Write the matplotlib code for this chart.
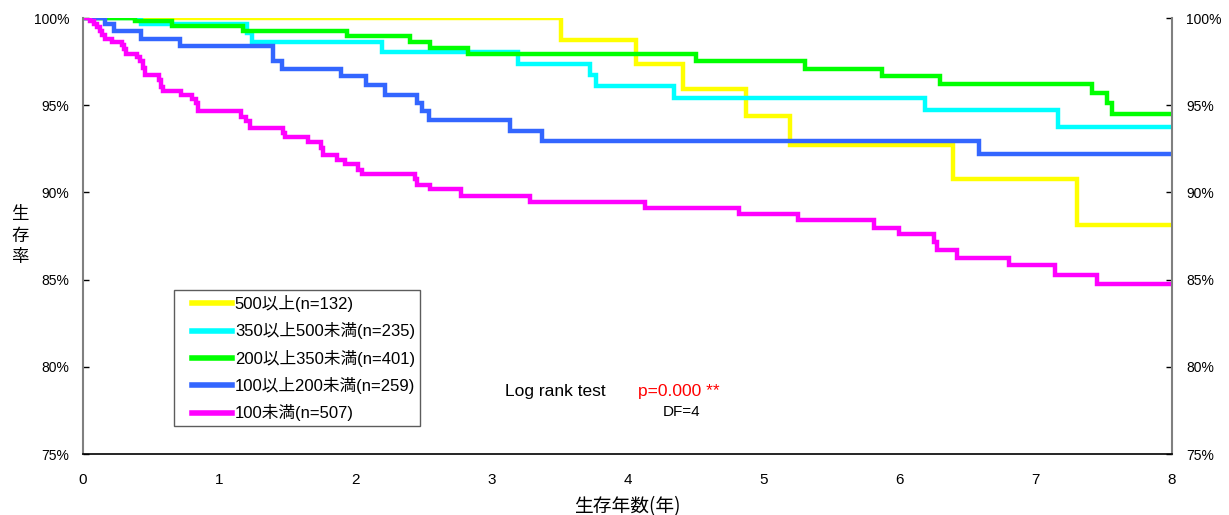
import matplotlib
matplotlib.use("Agg")
import matplotlib.pyplot as plt
import numpy as np

# ---- data (step curves: drop times in years, survival % after each drop) ----
labels = ["500以上(n=132)", "350以上500未満(n=235)", "200以上350未満(n=401)",
          "100以上200未満(n=259)", "100未満(n=507)"]
colors = ["#FFFF00", "#00FFFF", "#00FF00", "#3366FF", "#FF00FF"]

t_500 = [3.511, 4.062, 4.408, 4.871, 5.194, 6.391, 7.302]
s_500 = [98.71, 97.37, 95.94, 94.37, 92.69, 90.74, 88.13]

t_350 = [0.426, 1.203, 1.239, 2.194, 3.198, 3.725, 3.769, 4.342, 6.186, 7.165]
s_350 = [99.66, 99.15, 98.64, 98.06, 97.37, 96.76, 96.09, 95.42, 94.70, 93.76]

t_200 = [0.382, 0.652, 1.178, 1.937, 2.402, 2.549, 2.831, 4.503, 5.304, 5.867,
         6.296, 7.410, 7.525, 7.557]
s_200 = [99.82, 99.53, 99.24, 98.96, 98.64, 98.29, 97.95, 97.56, 97.10, 96.70,
         96.24, 95.71, 95.14, 94.52]

t_100 = [0.162, 0.230, 0.426, 0.713, 1.398, 1.460, 1.895, 2.079, 2.219, 2.451,
         2.488, 2.544, 3.137, 3.372, 6.582]
s_100 = [99.68, 99.24, 98.82, 98.42, 97.52, 97.09, 96.66, 96.13, 95.61, 95.14,
         94.66, 94.14, 93.52, 92.92, 92.21]

t_u100 = [0.051, 0.081, 0.103, 0.125, 0.140, 0.162, 0.213, 0.287, 0.301, 0.316,
          0.397, 0.419, 0.441, 0.455, 0.558, 0.573, 0.588, 0.720, 0.801, 0.830,
          0.845, 1.161, 1.197, 1.227, 1.471, 1.484, 1.655, 1.748, 1.761, 1.868,
          1.925, 2.022, 2.047, 2.439, 2.451, 2.549, 2.777, 3.284, 4.129, 4.819,
          5.253, 5.813, 5.995, 6.254, 6.271, 6.418, 6.805, 7.140, 7.451]
s_u100 = [99.80, 99.63, 99.46, 99.28, 99.05, 98.82, 98.65, 98.48, 98.25, 97.96,
          97.79, 97.51, 97.16, 96.76, 96.47, 96.07, 95.79, 95.60, 95.37, 95.11,
          94.68, 94.35, 94.12, 93.70, 93.42, 93.19, 92.90, 92.56, 92.12, 91.85,
          91.60, 91.31, 91.03, 90.74, 90.45, 90.17, 89.78, 89.46, 89.12, 88.76,
          88.39, 87.97, 87.59, 87.14, 86.69, 86.25, 85.81, 85.29, 84.76]

series_t = [t_500, t_350, t_200, t_100, t_u100]
series_s = [s_500, s_350, s_200, s_100, s_u100]

x_ticks = [0, 1, 2, 3, 4, 5, 6, 7, 8]
y_ticks = [75, 80, 85, 90, 95, 100]
y_ticklabels = ["75%", "80%", "85%", "90%", "95%", "100%"]
t_max = 8

# ---- figure ----
plt.rcParams['font.family'] = ['Liberation Sans', 'Noto Sans CJK JP', 'DejaVu Sans']
fig = plt.figure(figsize=(12.29, 5.15), dpi=100)
ax = fig.add_axes([83 / 1229, 1 - 454 / 515, (1172 - 83) / 1229, (454 - 18) / 515])

for t, s, c, lab in zip(series_t, series_s, colors, labels):
    tt = [0] + list(t) + [t_max]
    ss = [100] + list(s) + [s[-1]]
    ax.step(tt, ss, where='post', color=c, lw=3.2, label=lab, solid_joinstyle='miter')

ax.set_xlim(0, 8)
ax.set_ylim(75, 100)
ax.set_xticks(x_ticks)
ax.set_yticks(y_ticks)
ax.set_yticklabels(y_ticklabels)

ax.spines['top'].set_visible(False)
for sp in ['left', 'right']:
    ax.spines[sp].set_color('#808080')
    ax.spines[sp].set_linewidth(1.5)
ax.spines['bottom'].set_color('black')
ax.spines['bottom'].set_linewidth(1.2)

ax.tick_params(axis='y', direction='in', length=4, width=1, left=True, right=True,
               labelleft=True, labelright=True, labelsize=10, pad=10)
ax.tick_params(axis='x', direction='in', length=0, labelsize=11, pad=14)

ax.set_xlabel("生存年数(年)", fontsize=13.5, family=['Noto Sans CJK JP'], labelpad=6)
ax.text(-0.058, 0.5, "生\n存\n率", transform=ax.transAxes, fontsize=12.5,
        family=['Noto Sans CJK JP'], ha='center', va='center', linespacing=1.25)

leg = ax.legend(loc='upper left', bbox_to_anchor=(0.0836, 0.376), borderaxespad=0,
                frameon=True, fancybox=False, handlelength=3.2,
                labelspacing=0.62, handletextpad=0.15, borderpad=0.3,
                prop={'family': ['Liberation Sans', 'Noto Sans CJK JP'], 'size': 12})
leg.get_frame().set_edgecolor('#333333')
leg.get_frame().set_linewidth(1.0)
for h in leg.get_lines():
    h.set_linewidth(4)
    xd = np.asarray(h.get_xdata(), dtype=float)
    if xd.size >= 2:
        xd = xd.copy()
        xd[0] = xd[0] + 9.0
        h.set_xdata(xd)

ax.text(3.10, 78.58, "Log rank test", fontsize=12.5, ha='left', va='center', color='black')
ax.text(4.077, 78.58, "p=0.000 **", fontsize=12.5, ha='left', va='center', color='#FF0000')
ax.text(4.26, 77.38, "DF=4", fontsize=11, ha='left', va='center', color='black')

fig.savefig("out.png", dpi=100, facecolor='white')
